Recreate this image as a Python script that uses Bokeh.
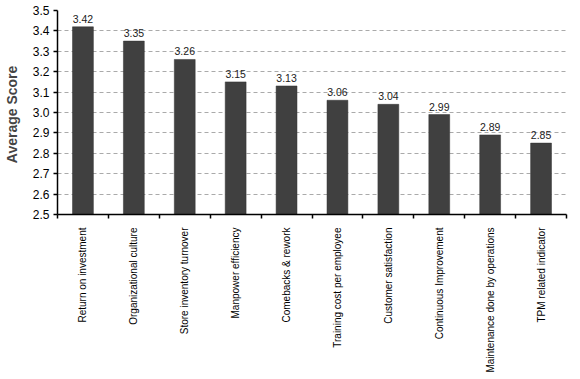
from bokeh.plotting import figure
from bokeh.models import ColumnDataSource, FixedTicker, PrintfTickFormatter, Range1d, LabelSet
from bokeh.embed import file_html
from bokeh.resources import INLINE
from bokeh.core.properties import value

categories = ["Return on investment", "Organizational culture", "Store inventory turnover",
              "Manpower efficiency", "Comebacks & rework", "Training cost per employee",
              "Customer satisfaction", "Continuous Improvement",
              "Maintenance done by operations", "TPM related indicator"]
scores = [3.42, 3.35, 3.26, 3.15, 3.13, 3.06, 3.04, 2.99, 2.89, 2.85]
y_ticks = [2.5, 2.6, 2.7, 2.8, 2.9, 3.0, 3.1, 3.2, 3.3, 3.4, 3.5]

xs = [i + 0.5 for i in range(len(categories))]
src = ColumnDataSource(dict(x=xs, top=scores, lab=["%.2f" % s for s in scores]))

p = figure(frame_width=509, frame_height=204, output_backend="svg", toolbar_location=None,
           x_range=Range1d(0, len(categories)), y_range=Range1d(2.5, 3.5),
           min_border_left=50, min_border_right=5, min_border_top=10, min_border_bottom=0)
p.outline_line_color = None
p.background_fill_color = "white"

p.vbar(x="x", top="top", bottom=2.5, width=0.41, source=src,
       fill_color="#404040", line_color="#333333", line_width=0.5)

labels = LabelSet(x="x", y="top", text="lab", source=src, text_align="center",
                  text_baseline="bottom", y_offset=4, text_font_size="10.5px",
                  text_font=value("Liberation Sans"), text_color="#222222")
p.add_layout(labels)

# x axis
p.xaxis.ticker = FixedTicker(ticks=xs, minor_ticks=list(range(len(categories) + 1)))
p.xaxis.major_label_overrides = {x: c for x, c in zip(xs, categories)}
p.xaxis.major_label_orientation = 1.5708
p.xaxis.major_tick_line_color = None
p.xaxis.minor_tick_line_color = "black"
p.xaxis.minor_tick_in = 0
p.xaxis.minor_tick_out = 4
p.xaxis.minor_tick_line_width = 1.5
p.xaxis.axis_line_color = "black"
p.xaxis.axis_line_width = 1.5
p.xaxis.major_label_text_font = "Liberation Sans"
p.xaxis.major_label_text_font_size = "10px"
p.xaxis.major_label_text_color = "black"
p.xaxis.major_label_standoff = 7

# y axis
p.yaxis.ticker = FixedTicker(ticks=y_ticks, minor_ticks=[])
p.yaxis.formatter = PrintfTickFormatter(format="%.1f")
p.yaxis.axis_line_color = "black"
p.yaxis.axis_line_width = 1.5
p.yaxis.major_tick_in = 0
p.yaxis.major_tick_out = 4
p.yaxis.major_tick_line_width = 1.5
p.yaxis.major_label_text_font = "Liberation Sans"
p.yaxis.major_label_text_font_size = "12px"
p.yaxis.major_label_text_color = "black"
p.yaxis.major_label_standoff = 4
p.yaxis.axis_label = "Average  Score"
p.yaxis.axis_label_text_font = "Liberation Sans"
p.yaxis.axis_label_text_font_style = "bold"
p.yaxis.axis_label_text_font_size = "14px"
p.yaxis.axis_label_standoff = 10

p.xgrid.grid_line_color = None
p.ygrid.ticker = FixedTicker(ticks=y_ticks[1:])
p.ygrid.grid_line_color = "#aaaaaa"
p.ygrid.grid_line_dash = "4 3"
p.ygrid.grid_line_width = 1

open("out.html", "w").write(file_html(p, INLINE))
